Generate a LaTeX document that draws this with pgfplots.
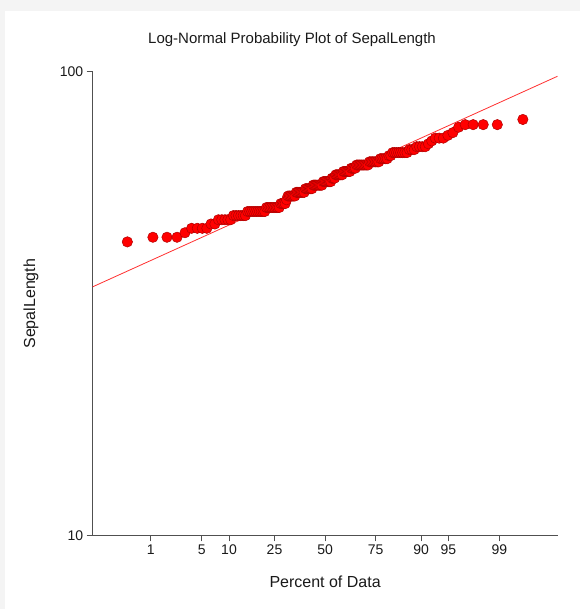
\documentclass[border=0pt]{standalone}
\usepackage{pgfplots}
\pgfplotsset{compat=1.18}
\usepackage{pgfplotstable}
\usepackage{fontspec}
\setmainfont{Liberation Sans}
\definecolor{bgcol}{HTML}{F4F4F4}
\definecolor{axcol}{HTML}{505050}
\definecolor{txtcol}{HTML}{1A1A1A}
\definecolor{ptedge}{HTML}{B00000}
\definecolor{linecol}{HTML}{FF3030}

% Blom plotting position (normal score) and SepalLength value
\pgfplotstableread{
z value
-2.638 43
-2.297 44
-2.109 44
-1.975 44
-1.869 45
-1.781 46
-1.705 46
-1.638 46
-1.577 46
-1.522 47
-1.470 47
-1.423 48
-1.378 48
-1.336 48
-1.297 48
-1.259 48
-1.223 49
-1.189 49
-1.156 49
-1.124 49
-1.093 49
-1.063 49
-1.034 50
-1.006 50
-0.979 50
-0.952 50
-0.926 50
-0.901 50
-0.876 50
-0.852 50
-0.828 50
-0.805 50
-0.782 51
-0.759 51
-0.737 51
-0.716 51
-0.694 51
-0.673 51
-0.652 51
-0.632 51
-0.612 51
-0.592 52
-0.572 52
-0.553 52
-0.533 52
-0.514 53
-0.495 54
-0.476 54
-0.458 54
-0.439 54
-0.421 54
-0.403 54
-0.385 55
-0.367 55
-0.349 55
-0.331 55
-0.314 55
-0.296 55
-0.279 55
-0.262 56
-0.244 56
-0.227 56
-0.210 56
-0.193 56
-0.176 56
-0.159 57
-0.143 57
-0.126 57
-0.109 57
-0.092 57
-0.075 57
-0.058 57
-0.042 57
-0.025 58
-0.008 58
0.008 58
0.025 58
0.042 58
0.058 58
0.075 58
0.092 59
0.109 59
0.126 59
0.143 60
0.159 60
0.176 60
0.193 60
0.210 60
0.227 60
0.244 61
0.262 61
0.279 61
0.296 61
0.314 61
0.331 61
0.349 62
0.367 62
0.385 62
0.403 62
0.421 63
0.439 63
0.458 63
0.476 63
0.495 63
0.514 63
0.533 63
0.553 63
0.572 63
0.592 64
0.612 64
0.632 64
0.652 64
0.673 64
0.694 64
0.716 64
0.737 65
0.759 65
0.782 65
0.805 65
0.828 65
0.852 66
0.876 66
0.901 67
0.926 67
0.952 67
0.979 67
1.006 67
1.034 67
1.063 67
1.093 67
1.124 68
1.156 68
1.189 68
1.223 69
1.259 69
1.297 69
1.336 69
1.378 70
1.423 71
1.470 72
1.522 72
1.577 72
1.638 73
1.705 74
1.781 76
1.869 77
1.975 77
2.109 77
2.297 77
2.638 79
}\sepaldata

\begin{document}
\begin{tikzpicture}
\useasboundingbox (0,0) rectangle (580pt,609pt);
\fill[bgcol] (0,0) rectangle (580pt,609pt);
\fill[white] (5pt,0) rectangle (580pt,598pt);
\begin{axis}[
  at={(92.7pt,73.5pt)}, anchor=south west,
  scale only axis, width=464.8pt, height=463.5pt,
  xmin=-3.1, xmax=3.1,
  ymode=log, ymin=10, ymax=100,
  axis lines=left,
  axis line style={-, axcol, line width=1pt},
  tick style={axcol, line width=1pt},
  tick align=outside,
  major tick length=6pt,
  xtick={-2.3263,-1.6449,-1.2816,-0.6745,0,0.6745,1.2816,1.6449,2.3263},
  xticklabels={1,5,10,25,50,75,90,95,99},
  ytick={10,100}, yticklabels={10,100},
  xminorticks=false, yminorticks=false,
  /pgf/number format/assume math mode=true,
  ticklabel style={font=\fontsize{14}{16}\selectfont, text=txtcol},
  every axis title shift=0pt,
  title={Log-Normal Probability Plot of SepalLength},
  every axis title/.style={at={(axis description cs:0.4288,1.069)}, anchor=center, font=\fontsize{15}{18}\selectfont, text=txtcol},
  xlabel={Percent of Data},
  xlabel style={at={(axis description cs:0.5,-0.1003)}, anchor=center, font=\fontsize{16}{19}\selectfont, text=txtcol},
  ylabel={SepalLength},
  ylabel style={at={(axis description cs:-0.1327,0.5)}, anchor=center, font=\fontsize{16}{19}\selectfont, text=txtcol},
  clip=false,
]
\addplot[linecol, line width=0.8pt] coordinates {(-3.1,34.4) (3.1,97.9)};
\addplot[only marks, mark=*, mark size=5.2pt,
  mark options={fill=red, draw=ptedge, line width=0.5pt}]
  table[x=z, y=value] {\sepaldata};
\end{axis}
\end{tikzpicture}
\end{document}
